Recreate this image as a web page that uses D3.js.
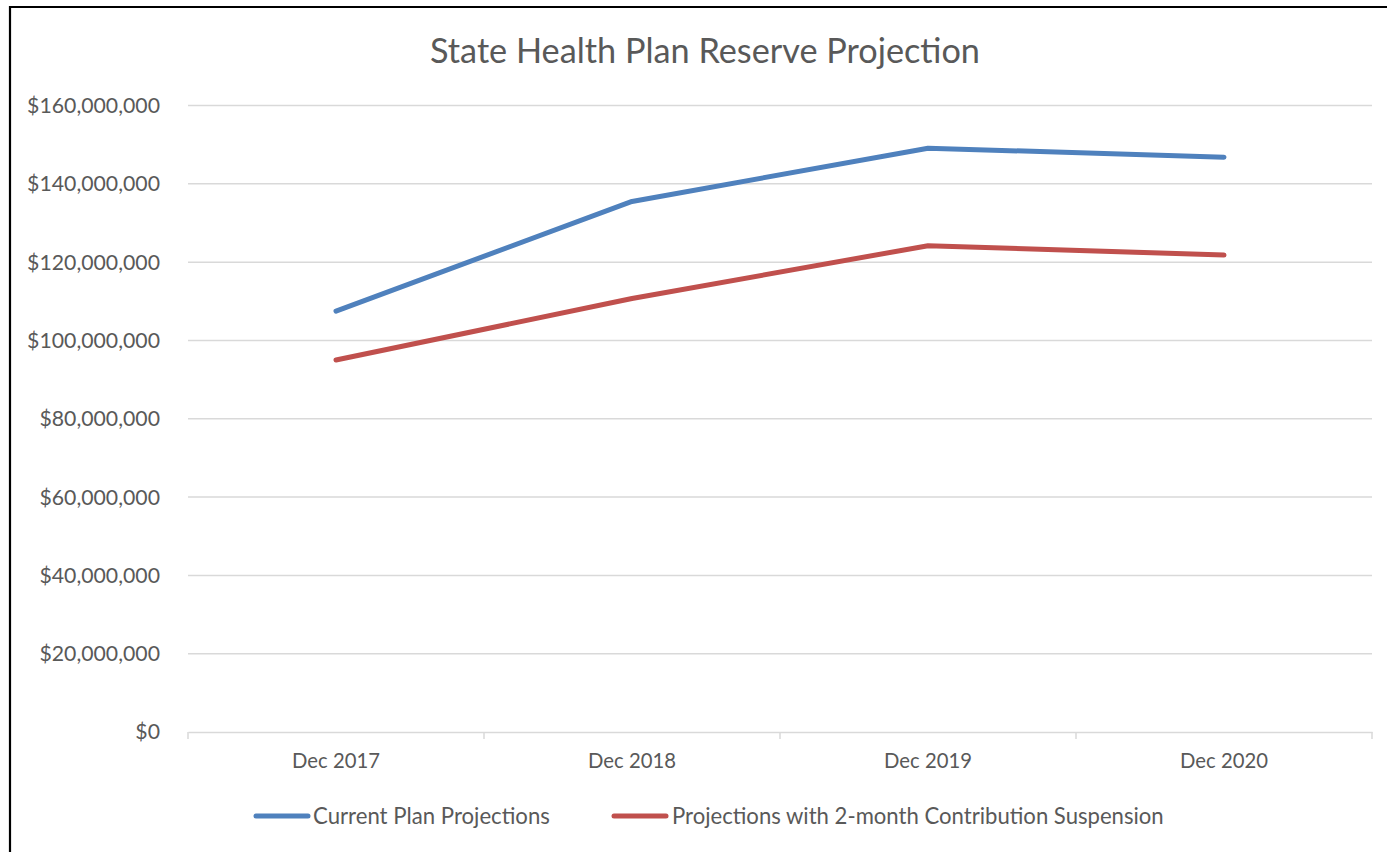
<!DOCTYPE html>
<html><head><meta charset="utf-8">
<script src="https://cdn.jsdelivr.net/npm/d3@7"></script>
<style>
body{margin:0;background:#fff;}
text{font-family:Lato,"Open Sans",sans-serif;fill:#595959;}
</style></head>
<body>
<svg id="chart" width="1387" height="852"></svg>
<script>
const title = "State Health Plan Reserve Projection";
const categories = ["Dec 2017","Dec 2018","Dec 2019","Dec 2020"];
const seriesNames = ["Current Plan Projections","Projections with 2-month Contribution Suspension"];
const currentPlan = [107.5e6, 135.5e6, 149.1e6, 146.8e6];
const suspension = [95.0e6, 110.7e6, 124.2e6, 121.8e6];
const yTicks = [0,20e6,40e6,60e6,80e6,100e6,120e6,140e6,160e6];
const colors = ["#4F81BD","#C0504D"];

(function(){
const svg = d3.select("#chart");
const pLeft = 188, pRight = 1372, pTop = 105.5, pBottom = 732;

// chart border
svg.append("path").attr("d","M10,852 V7 H1387").attr("fill","none").attr("stroke","#000").attr("stroke-width",2.2);

const x = d3.scaleBand().domain(categories).range([pLeft,pRight]);
const y = d3.scaleLinear().domain([0,160e6]).range([pBottom,pTop]);

function fit(sel, target){
  const w = sel.node().getComputedTextLength();
  const fs = parseFloat(sel.attr("font-size"));
  sel.attr("font-size", fs*target/w);
}

// gridlines
svg.append("g").selectAll("line").data(yTicks.filter(d=>d>0)).join("line")
  .attr("x1",pLeft).attr("x2",pRight).attr("y1",d=>y(d)).attr("y2",d=>y(d))
  .attr("stroke","#d9d9d9").attr("stroke-width",1.5);

// y axis labels
const fmt = d => "$" + d3.format(",")(d);
const yl = svg.append("g").selectAll("text").data(yTicks).join("text")
  .attr("x",160).attr("y",d=>y(d)).attr("dy","0.35em").attr("text-anchor","end")
  .attr("font-size",19).text(fmt);
{
  const n = yl.filter(d=>d===160e6);
  const w = n.node().getComputedTextLength();
  yl.attr("font-size",19*133/w);
}

// x axis
const xAxis = d3.axisBottom(x).tickSize(0).tickPadding(22);
const xg = svg.append("g").attr("transform",`translate(0,${pBottom})`).call(xAxis);
xg.select(".domain").attr("stroke","#d9d9d9").attr("stroke-width",1.5);
xg.selectAll("text").attr("font-size",19).attr("font-family","Lato,'Open Sans',sans-serif").attr("fill","#595959").attr("dy","0.71em");
{
  const n = xg.select("text");
  const w = n.node().getComputedTextLength();
  xg.selectAll("text").attr("font-size",19*88/w);
}
const bounds = categories.map(c=>x(c)).concat([x.range()[1]]);
xg.append("g").selectAll("line").data(bounds).join("line")
  .attr("x1",d=>d).attr("x2",d=>d).attr("y1",0).attr("y2",7)
  .attr("stroke","#d9d9d9").attr("stroke-width",1.5);

// lines
const line = d3.line().x((d,i)=>x(categories[i])+x.bandwidth()/2).y(d=>y(d));
[currentPlan, suspension].forEach((s,i)=>{
  svg.append("path").datum(s).attr("d",line).attr("fill","none")
    .attr("stroke",colors[i]).attr("stroke-width",5).attr("stroke-linecap","round").attr("stroke-linejoin","round");
});

// title
const t = svg.append("text").attr("x",705).attr("y",63).attr("text-anchor","middle")
  .attr("font-size",30).text(title);
fit(t,550);

// legend
const legendItems = [
  {name:seriesNames[0], color:colors[0], x0:256, x1:308, tx:313, tw:237},
  {name:seriesNames[1], color:colors[1], x0:614, x1:666, tx:672, tw:492}
];
const lg = svg.append("g");
legendItems.forEach(it=>{
  lg.append("line").attr("x1",it.x0).attr("x2",it.x1).attr("y1",816).attr("y2",816)
    .attr("stroke",it.color).attr("stroke-width",5).attr("stroke-linecap","round");
  const tt = lg.append("text").attr("x",it.tx).attr("y",816).attr("dy","0.35em").attr("font-size",19).text(it.name);
  fit(tt,it.tw);
});
})();
</script>
</body></html>
